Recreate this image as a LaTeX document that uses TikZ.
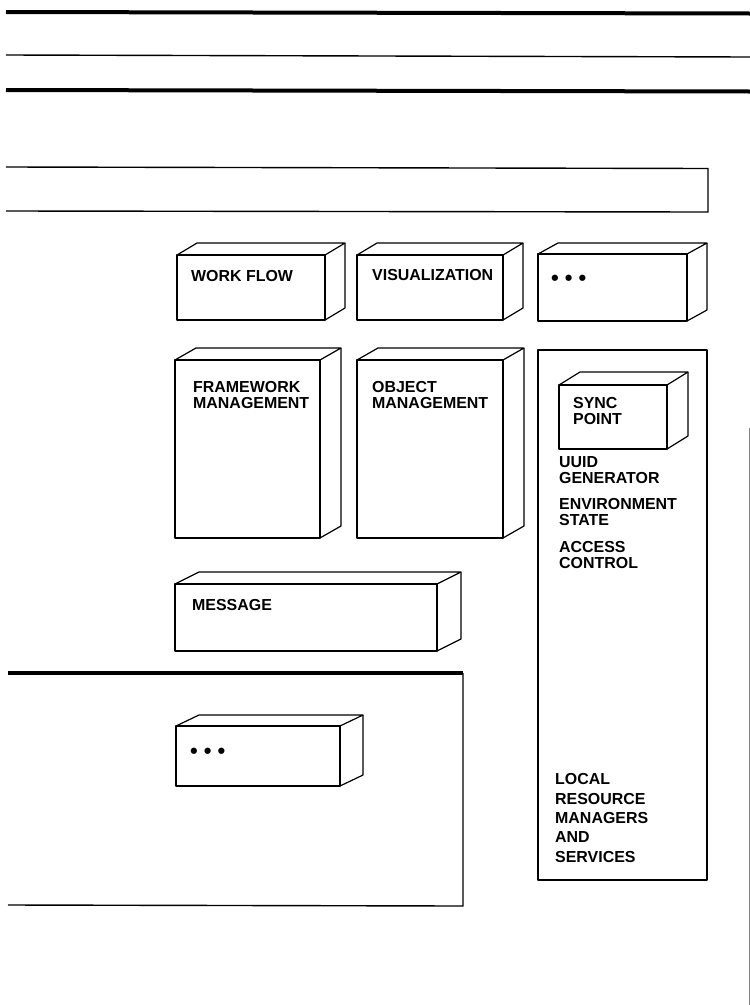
\documentclass[tikz,border=0pt]{standalone}
\usepackage{fontspec}
\setmainfont{Liberation Sans}
\tikzset{
  edge/.style={line width=1.2bp, line join=round},
  heavy/.style={line width=4bp},
  thin/.style={line width=1.4bp},
  lbl/.style={inner sep=0pt, anchor=west, align=left, font=\bfseries\fontsize{16}{16.3}\selectfont},
  lbltall/.style={inner sep=0pt, anchor=west, align=left, font=\bfseries\fontsize{16}{19.5}\selectfont},
  dots/.style={inner sep=0pt, anchor=west, font=\bfseries\fontsize{22}{22}\selectfont},
}
% x1 y1 x2 y2 dx dy : front face corners and depth offset
\newcommand\solidbox[6]{%
  \draw[edge] (#1,#2) rectangle (#3,#4);
  \draw[edge] (#1,#2) -- (#1+#5,#2+#6) -- (#3+#5,#2+#6) -- (#3,#2);
  \draw[edge] (#3+#5,#2+#6) -- (#3+#5,#4+#6) -- (#3,#4);
}
\begin{document}
\begin{tikzpicture}[x=1bp,y=-1bp]
\useasboundingbox (0,0) rectangle (750,1005);
% header rules
\draw[heavy] (6,12) -- (750,13.5);
\draw[thin] (6,55) -- (750,57);
\draw[heavy] (6,90) -- (750,91.5);
% open frame
\draw[thin] (6,167) -- (708,168.5) -- (708,212) -- (6,211);
% boxes
\solidbox{177}{255}{325}{320}{20}{-12}
\solidbox{357}{255}{503}{320}{20}{-12}
\solidbox{538}{254}{687}{321}{20}{-11}
\solidbox{175}{360}{320}{538}{21}{-12}
\solidbox{357}{360}{503}{538}{21}{-12}
\draw[edge] (538,350) rectangle (707,880);
\solidbox{559}{385}{667}{449}{21}{-13}
\solidbox{175}{584}{437}{651}{24}{-12}
% lower frame
\draw[heavy] (8,673) -- (463,673);
\draw[thin] (463,673) -- (463,906) -- (8,905);
\solidbox{176}{726}{340}{786}{23}{-11}
% faint right edge
\draw[gray, line width=1bp] (749,428) -- (749,1005);
% labels
\node[lbl] (wf) at (191,276) {WORK FLOW};
\node[lbl] (vis) at (372,275) {VISUALIZATION};
\node[dots] (d1) at (551,280) {• • •};
\node[lbl] (fm) at (193,395) {FRAMEWORK\\MANAGEMENT};
\node[lbl] (om) at (372,395) {OBJECT\\MANAGEMENT};
\node[lbl] (sp) at (573,411) {SYNC\\POINT};
\node[lbl] (uuid) at (559,470) {UUID\\GENERATOR};
\node[lbl] (env) at (559,512) {ENVIRONMENT\\STATE};
\node[lbl] (acc) at (559,555) {ACCESS\\CONTROL};
\node[lbl] (msg) at (192,605) {MESSAGE};
\node[dots] (d2) at (190,753) {• • •};
\node[lbltall] (local) at (555,818) {LOCAL\\RESOURCE\\MANAGERS\\AND\\SERVICES};
\end{tikzpicture}
\end{document}
